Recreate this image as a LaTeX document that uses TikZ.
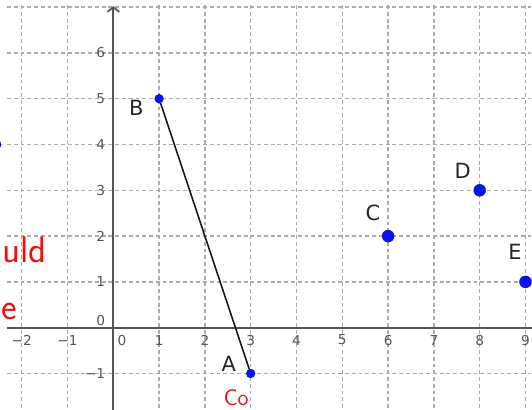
\documentclass[tikz,border=0pt]{standalone}
\usepackage{fontspec}
\setmainfont{DejaVu Sans}
\usetikzlibrary{arrows.meta}
\definecolor{gridcolor}{HTML}{ABABAB}
\definecolor{axiscolor}{HTML}{555555}
\definecolor{pointcolor}{HTML}{0A14F0}
\definecolor{inkcolor}{HTML}{F01010}
\tikzset{
  geo grid/.style={gridcolor,line width=.9pt,dash pattern=on 2.4pt off 1.8pt},
  geo axis/.style={axiscolor,line width=1.1pt},
  geo tick/.style={text=axiscolor,font=\fontsize{8.5}{10}\selectfont,inner sep=0pt},
  geo point/.style={circle,fill=pointcolor,draw=pointcolor!75!black,line width=.3pt,
    inner sep=0pt,minimum size=#1},
  geo point/.default=2.6mm,
  geo name/.style={text=black!85,font=\fontsize{13}{15}\selectfont,inner sep=0pt},
  geo segment/.style={black!90,line width=1pt},
  geo ink/.style={text=inkcolor,inner sep=0pt}
}
\begin{document}
\begin{tikzpicture}
  \useasboundingbox (-2.474,-1.797) rectangle (9.142,7.155);
  \clip (-2.474,-1.797) rectangle (9.142,7.155);
  % grid
  \foreach \y in {-1,...,7}{\draw[geo grid] (-2.32,\y)--(9.2,\y);}
  \foreach \x in {-2,-1,1,2,...,9}{\draw[geo grid] (\x,-1.9)--(\x,7.1);}
  % axes
  \draw[geo axis] (-2.32,0)--(9.2,0);
  \draw[geo axis,-{Straight Barb[length=1mm,width=2.6mm]}] (0,-1.9)--(0,7.02);
  \foreach \x in {-2,-1,1,2,...,9}{\node[geo tick] at (\x,-.27) {\ifnum\x<0 −\the\numexpr-\x\relax\else\x\fi};}
  \node[geo tick] at (.19,-.27) {0};
  \foreach \y in {-1,1,2,...,6}{\node[geo tick,anchor=east] at (-.17,\y) {\ifnum\y<0 −\the\numexpr-\y\relax\else\y\fi};}
  \node[geo tick,anchor=east] at (-.17,.15) {0};
  % points
  \node[geo point=1.9mm] (A) at (3,-1) {};
  \node[geo point=1.9mm] (B) at (1,5) {};
  \node[geo point] (C) at (6,2) {};
  \node[geo point] (D) at (8,3) {};
  \node[geo point] (E) at (9,1) {};
  \node[geo point=2.2mm] (F) at (-2.56,4) {};
  \draw[geo segment] (A)--(B);
  \node[geo name] at (2.52,-.79) {A};
  \node[geo name] at (.5,4.8) {B};
  \node[geo name] at (5.67,2.5) {C};
  \node[geo name] at (7.63,3.43) {D};
  \node[geo name] at (8.77,1.66) {E};
  % handwriting
  \node[geo ink,font=\sffamily\fontsize{23}{25}\selectfont,anchor=base east] at (-1.45,1.43) {uld};
  \node[geo ink,font=\sffamily\fontsize{23}{25}\selectfont,anchor=base west] at (-2.455,.17) {e};
  \node[geo ink,font=\sffamily\fontsize{14}{16}\selectfont,anchor=base west] at (2.4,-1.69) {Co};
\end{tikzpicture}
\end{document}
